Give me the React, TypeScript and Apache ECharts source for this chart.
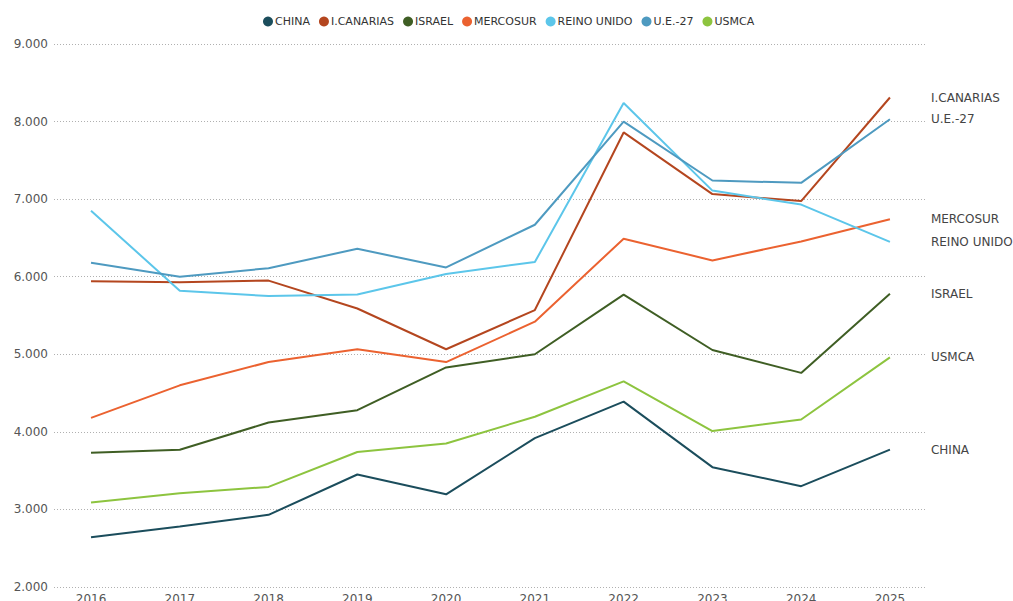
import React, { useEffect, useRef } from "react";
import * as echarts from "echarts";

const years = [2016, 2017, 2018, 2019, 2020, 2021, 2022, 2023, 2024, 2025];
const seriesNames = ["CHINA", "I.CANARIAS", "ISRAEL", "MERCOSUR", "REINO UNIDO", "U.E.-27", "USMCA"];
const china = [2640, 2780, 2930, 3450, 3195, 3920, 4390, 3545, 3300, 3770];
const canarias = [5940, 5930, 5950, 5590, 5065, 5570, 7860, 7065, 6975, 8310];
const israel = [3730, 3770, 4120, 4280, 4830, 5000, 5770, 5055, 4760, 5780];
const mercosur = [4180, 4600, 4900, 5065, 4900, 5420, 6490, 6210, 6455, 6740];
const reinoUnido = [6850, 5820, 5750, 5770, 6035, 6190, 8240, 7110, 6930, 6450];
const ue27 = [6180, 6000, 6110, 6360, 6120, 6670, 8000, 7240, 7210, 8030];
const usmca = [3090, 3210, 3290, 3740, 3850, 4195, 4650, 4010, 4160, 4960];
const colors = ["#1b4d5c", "#b4461f", "#3f5e24", "#eb6230", "#5cc6ea", "#4e9ac0", "#8dc43f"];

const FONT = "DejaVu Sans, Verdana, sans-serif";

const fmt = (v: number) => String(v).replace(/\B(?=(\d{3})+(?!\d))/g, ".");

export default function App() {
  const ref = useRef<HTMLDivElement>(null);
  useEffect(() => {
    if (!ref.current) return;
    const chart = echarts.init(ref.current, null, { renderer: "svg" });
    const all = [china, canarias, israel, mercosur, reinoUnido, ue27, usmca];
    chart.setOption({
      animation: false,
      color: colors,
      legend: {
        top: 11,
        left: 258,
        icon: "circle",
        itemWidth: 10,
        itemHeight: 10,
        itemGap: 9,
        textStyle: { fontFamily: FONT, fontSize: 11, color: "#333", padding: [0, 0, 0, -3] },
        data: seriesNames,
      },
      grid: { left: 54, right: 88, top: 44, bottom: 14, outerBoundsMode: "none", containLabel: false },
      xAxis: {
        type: "value",
        min: 2015.583,
        max: 2025.395,
        axisLine: { show: false },
        axisTick: { show: false },
        splitLine: { show: false },
        axisLabel: {
          customValues: years,
          formatter: (v: number) => String(Math.round(v)),
          fontFamily: FONT,
          fontSize: 12,
          color: "#555",
          margin: 6,
        },
      },
      yAxis: {
        type: "value",
        min: 2000,
        max: 9000,
        interval: 1000,
        axisLine: { show: false },
        axisTick: { show: false },
        axisLabel: { formatter: fmt, fontFamily: FONT, fontSize: 12, color: "#555", margin: 6 },
        splitLine: { lineStyle: { color: "#b0b0b0", type: [1, 2], width: 1 } },
      },
      series: seriesNames.map((name, i) => ({
        name,
        type: "line",
        data: years.map((y, j) => [y, all[i][j]]),
        symbol: "none",
        lineStyle: { width: 2 },
        endLabel: {
          show: true,
          formatter: "{a}",
          distance: 41,
          fontFamily: FONT,
          fontSize: 12,
          color: "#444",
        },
      })),
    });
    return () => chart.dispose();
  }, []);
  return (
    <div
      ref={ref}
      style={{ position: "fixed", left: 0, top: 0, width: 1013, height: 601, background: "#fff" }}
    />
  );
}
